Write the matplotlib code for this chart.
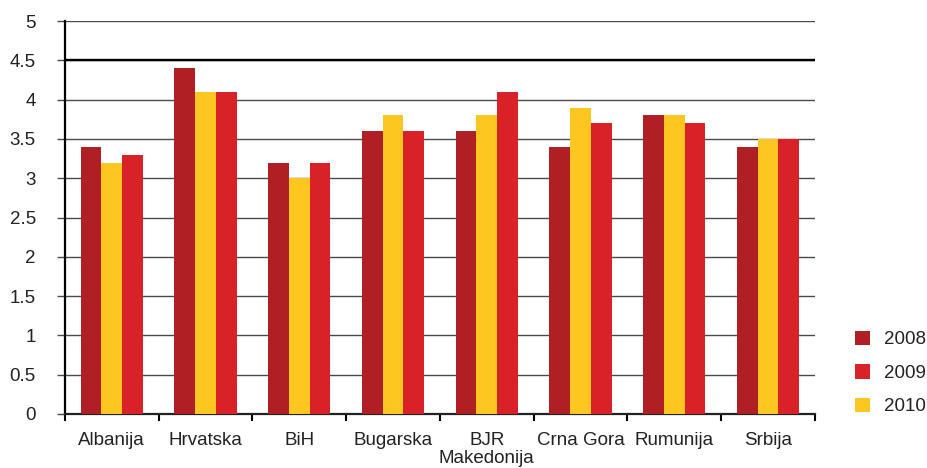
import numpy as np
import matplotlib
matplotlib.use("Agg")
import matplotlib.pyplot as plt

plt.rcParams['font.family'] = ['Liberation Sans', 'DejaVu Sans']

countries = ["Albanija", "Hrvatska", "BiH", "Bugarska", "BJR\nMakedonija",
             "Crna Gora", "Rumunija", "Srbija"]
v2008 = [3.4, 4.4, 3.2, 3.6, 3.6, 3.4, 3.8, 3.4]
v2009 = [3.3, 4.1, 3.2, 3.6, 4.1, 3.7, 3.7, 3.5]
v2010 = [3.2, 4.1, 3.0, 3.8, 3.8, 3.9, 3.8, 3.5]
yticks = [0, 0.5, 1, 1.5, 2, 2.5, 3, 3.5, 4, 4.5, 5]
ytick_labels = ["0", "0.5", "1", "1.5", "2", "2.5", "3", "3.5", "4", "4.5", "5"]

c2008 = "#B01F24"
c2009 = "#D92128"
c2010 = "#FDC620"
txt = "#222222"
fs = 13.5

fig = plt.figure(figsize=(9.28, 4.68), dpi=100)
ax = fig.add_axes([0.070, 0.1154, 0.808, 0.8396])

x = np.arange(len(countries))
w = 0.222
# bar order in the picture: 2008, 2010, 2009
ax.bar(x - w, v2008, w, color=c2008, label="2008", zorder=3)
ax.bar(x + w, v2009, w, color=c2009, label="2009", zorder=3)
ax.bar(x, v2010, w, color=c2010, label="2010", zorder=3)

ax.set_xlim(-0.5, len(countries) - 0.5)
ax.set_ylim(0, 5)
ax.set_yticks(yticks)
ax.set_yticklabels(ytick_labels, fontsize=fs, color=txt)
ax.yaxis.grid(True, color="#4a4a4a", lw=1.0, zorder=0)
ax.axhline(4.5, color="black", lw=1.7, zorder=1)
ax.set_axisbelow(True)

ax.set_xticks(np.arange(-0.5, len(countries), 1.0))
ax.set_xticklabels([])
ax.set_xticks(x, minor=True)
ax.set_xticklabels(countries, minor=True, fontsize=fs, color=txt, linespacing=1.05)
ax.tick_params(axis="x", which="minor", length=0, pad=13)
ax.tick_params(axis="x", which="major", length=5, width=1.5, color="black", direction="out")
ax.tick_params(axis="y", length=6, width=1.0, color="#4a4a4a", pad=15)

for s in ["top", "right"]:
    ax.spines[s].set_visible(False)
ax.spines["left"].set_linewidth(1.6)
ax.spines["left"].set_color("black")
ax.spines["bottom"].set_linewidth(1.6)
ax.spines["bottom"].set_color("#222222")

handles, labels = ax.get_legend_handles_labels()
fig.legend(handles, labels,
           loc="center left", bbox_to_anchor=(855 / 928, (468 - 373) / 468),
           frameon=False, fontsize=fs, handlelength=0.8, handleheight=0.8,
           handletextpad=0.75, labelspacing=0.85, borderpad=0, borderaxespad=0,
           labelcolor=txt)

fig.savefig("out.png", dpi=100)
